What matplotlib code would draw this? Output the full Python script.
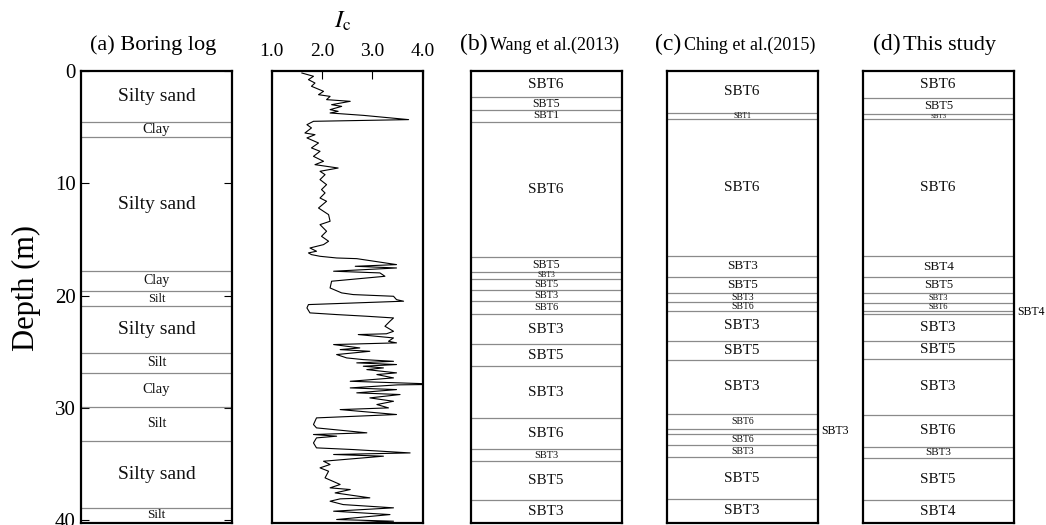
import numpy as np
import matplotlib.pyplot as plt

plt.rcParams['font.family'] = 'Liberation Serif'
plt.rcParams['mathtext.fontset'] = 'stix'

max_depth = 40.25

# (a) boring log: layer boundaries (m) and soil names
log_bounds = [0, 4.5, 5.9, 17.8, 19.6, 20.95, 25.1, 26.9, 29.9, 32.95, 38.9, 40.25]
log_names = ['Silty sand', 'Clay', 'Silty sand', 'Clay', 'Silt', 'Silty sand',
             'Silt', 'Clay', 'Silt', 'Silty sand', 'Silt']

# Ic profile
ic_depth = [0.18, 0.47, 0.77, 1.07, 1.36, 1.81, 2.11, 2.26, 2.55, 2.70, 3.00, 3.15,
            3.44, 3.59, 3.74, 3.95, 4.12, 4.33, 4.48, 4.78, 5.07, 5.52, 5.67, 5.96,
            6.41, 6.85, 7.15, 7.60, 8.04, 8.34, 8.64, 8.93, 9.23, 9.67, 10.12, 10.56,
            10.86, 11.31, 11.60, 12.20, 12.79, 13.38, 13.68, 14.27, 14.72, 15.16, 15.46,
            15.76, 16.05, 16.20, 16.35, 16.50, 16.65, 16.71, 17.24, 17.39, 17.54, 17.83,
            17.98, 18.28, 18.72, 19.32, 19.76, 19.91, 20.06, 20.36, 20.50, 20.80, 21.10,
            21.54, 21.69, 21.84, 21.99, 22.28, 22.73, 23.18, 23.40, 23.47, 23.77, 24.07,
            24.21, 24.36, 24.66, 24.81, 24.96, 25.25, 25.55, 25.70, 25.85, 25.99, 26.14,
            26.29, 26.44, 26.59, 26.88, 27.03, 27.33, 27.63, 27.77, 27.90, 27.95, 28.22,
            28.37, 28.66, 28.81, 29.11, 29.41, 29.70, 30.00, 30.15, 30.59, 30.89, 31.48,
            31.78, 32.22, 32.37, 32.52, 32.67, 33.12, 33.56, 33.71, 34.01, 34.15, 34.30,
            34.75, 35.04, 35.34, 35.64, 36.23, 36.82, 37.12, 37.27, 37.57, 38.01, 38.10,
            38.31, 38.61, 38.90, 39.20, 39.50, 39.94, 40.09, 40.24, 40.45]
ic_value = [1.60, 1.83, 1.73, 1.86, 1.79, 2.03, 1.93, 2.16, 2.09, 2.56, 2.19, 2.39,
            2.16, 2.32, 2.16, 2.82, 3.22, 3.72, 1.83, 1.70, 1.79, 1.66, 1.86, 1.70,
            1.93, 1.79, 1.96, 1.83, 2.03, 1.86, 2.32, 1.96, 2.06, 1.96, 2.09, 1.99,
            2.06, 1.96, 2.09, 1.93, 2.13, 2.16, 1.96, 2.09, 1.99, 2.13, 2.03,
            1.76, 1.89, 1.73, 1.79, 1.96, 2.29, 2.69, 3.48, 2.66, 3.48, 2.23,
            3.15, 3.25, 2.19, 2.16, 2.39, 2.62, 3.42, 3.48, 3.62, 1.73, 1.70,
            1.76, 2.29, 2.89, 3.42, 3.35, 3.25, 3.42, 3.28, 2.72, 3.42, 3.32,
            3.48, 2.23, 2.75, 2.36, 2.95, 2.29, 2.49, 2.82, 3.42, 2.69, 3.48,
            2.82, 3.22, 2.89, 3.48, 3.09, 3.42, 2.56, 3.55, 4.40, 3.50, 2.56,
            3.48, 2.69, 3.55, 2.95, 3.42, 3.09, 3.32, 2.36, 3.48, 1.89, 1.83,
            1.89, 2.89, 1.83, 2.29, 1.89, 1.83, 1.89, 2.62, 3.75, 2.23, 3.22,
            2.03, 2.16, 1.96, 2.13, 2.06, 2.36, 2.16, 2.56, 2.26, 2.95, 2.36,
            2.16, 2.42, 3.42, 2.23, 3.35, 2.29, 3.42, 2.56, 2.95]

# (b) Wang et al. (2013)
wang_bounds = [0, 2.35, 3.5, 4.5, 16.6, 17.9, 18.5, 19.5, 20.5, 21.6, 24.35, 26.3,
               30.9, 33.7, 34.7, 38.2, 40.25]
wang_names = ['SBT6', 'SBT5', 'SBT1', 'SBT6', 'SBT5', 'SBT3', 'SBT5', 'SBT3', 'SBT6',
              'SBT3', 'SBT5', 'SBT3', 'SBT6', 'SBT3', 'SBT5', 'SBT3']

# (c) Ching et al. (2015)
ching_bounds = [0, 3.7, 4.3, 16.5, 18.3, 19.75, 20.6, 21.4, 24.0, 25.7, 30.5, 31.9,
                32.3, 33.3, 34.4, 38.1, 40.25]
ching_names = ['SBT6', 'SBT1', 'SBT6', 'SBT3', 'SBT5', 'SBT3', 'SBT6', 'SBT3', 'SBT5',
               'SBT3', 'SBT6', 'SBT3', 'SBT6', 'SBT3', 'SBT5', 'SBT3']

# (d) this study
study_bounds = [0, 2.4, 3.8, 4.3, 16.5, 18.35, 19.8, 20.7, 21.35, 21.6, 24.0, 25.65,
                30.6, 33.5, 34.5, 38.2, 40.25]
study_names = ['SBT6', 'SBT5', 'SBT3', 'SBT6', 'SBT4', 'SBT5', 'SBT3', 'SBT6', 'SBT4',
               'SBT3', 'SBT5', 'SBT3', 'SBT6', 'SBT3', 'SBT5', 'SBT4']

# label font sizes (style only)
log_sizes = [14, 10.5, 14, 10, 9, 14, 10, 10.5, 10, 14, 9.5]
wang_sizes = [11, 8.5, 8, 11, 8.5, 5.5, 7.5, 7.5, 7.5, 11, 11, 11, 11, 7.5, 11, 11]
ching_sizes = [11, 5.5, 11, 9.5, 9.5, 7, 7, 11, 11, 11, 7, 8.5, 7, 7, 11, 11]
study_sizes = [11, 9, 5, 11, 9.5, 9, 6, 6, 8.5, 11, 11, 11, 11, 8, 11, 11]


def draw_column(ax, bounds, names, sizes):
    for k in range(len(names)):
        top, bot = bounds[k], bounds[k + 1]
        if k > 0:
            ax.axhline(top, color='#8a8a8a', lw=0.9)
        mid = (top + bot) / 2
        if bot - top < 0.45:
            ax.text(1.025, mid, names[k], transform=ax.get_yaxis_transform(),
                    ha='left', va='center', fontsize=sizes[k], clip_on=False)
        else:
            ax.text(0.5, mid, names[k], transform=ax.get_yaxis_transform(),
                    ha='center', va='center', fontsize=sizes[k], color='#111111')


fig = plt.figure(figsize=(10.46, 5.25), dpi=100)
bottom = 2 / 525
height = 452 / 525
width = 151 / 1046
lefts = [81, 271.7, 470.7, 666.7, 862.7]
axes = [fig.add_axes([l / 1046, bottom, width, height]) for l in lefts]

for ax in axes:
    ax.set_ylim(max_depth, 0)
    for s in ax.spines.values():
        s.set_linewidth(1.6)
    ax.set_xticks([])

# (a)
ax = axes[0]
ax.set_xlim(0, 1)
draw_column(ax, log_bounds, log_names, log_sizes)
ax.set_yticks([0, 10, 20, 30, 40])
ax.tick_params(axis='y', left=True, right=True, direction='in', length=6,
               labelsize=15, pad=4)
ax.text(0.48, 1.046, '(a) Boring log', transform=ax.transAxes, ha='center',
        va='baseline', fontsize=16)
fig.text(26 / 1046, 1 - 288 / 525, 'Depth (m)', rotation=90, ha='center',
         va='center', fontsize=22)

# Ic
ax = axes[1]
ax.plot(ic_value, ic_depth, color='black', lw=0.8)
ax.set_xlim(1, 4)
ax.set_yticks([])
ax.set_xticks([1, 2, 3, 4])
ax.set_xticklabels(['1.0', '2.0', '3.0', '4.0'])
ax.xaxis.tick_top()
ax.tick_params(axis='x', top=True, bottom=False, direction='in', length=6,
               labelsize=14, pad=8)
ax.text(0.47, 1.095, r'$I_{\mathrm{c}}$', transform=ax.transAxes, ha='center',
        va='baseline', fontsize=18)

# (b), (c), (d)
panels = [(axes[2], wang_bounds, wang_names, wang_sizes, '(b)', 'Wang et al.(2013)', 0.114, 13),
          (axes[3], ching_bounds, ching_names, ching_sizes, '(c)', 'Ching et al.(2015)', 0.099, 13),
          (axes[4], study_bounds, study_names, study_sizes, '(d)', 'This study', 0.254, 16)]
for ax, b, n, sz, tag, title, xr, tsize in panels:
    ax.set_xlim(0, 1)
    ax.set_yticks([])
    draw_column(ax, b, n, sz)
    ax.text(xr, 1.046, tag, transform=ax.transAxes, ha='right', va='baseline',
            fontsize=17)
    ax.text(xr + 0.014, 1.046, title, transform=ax.transAxes, ha='left',
            va='baseline', fontsize=tsize)

fig.savefig('out.png', dpi=100)
